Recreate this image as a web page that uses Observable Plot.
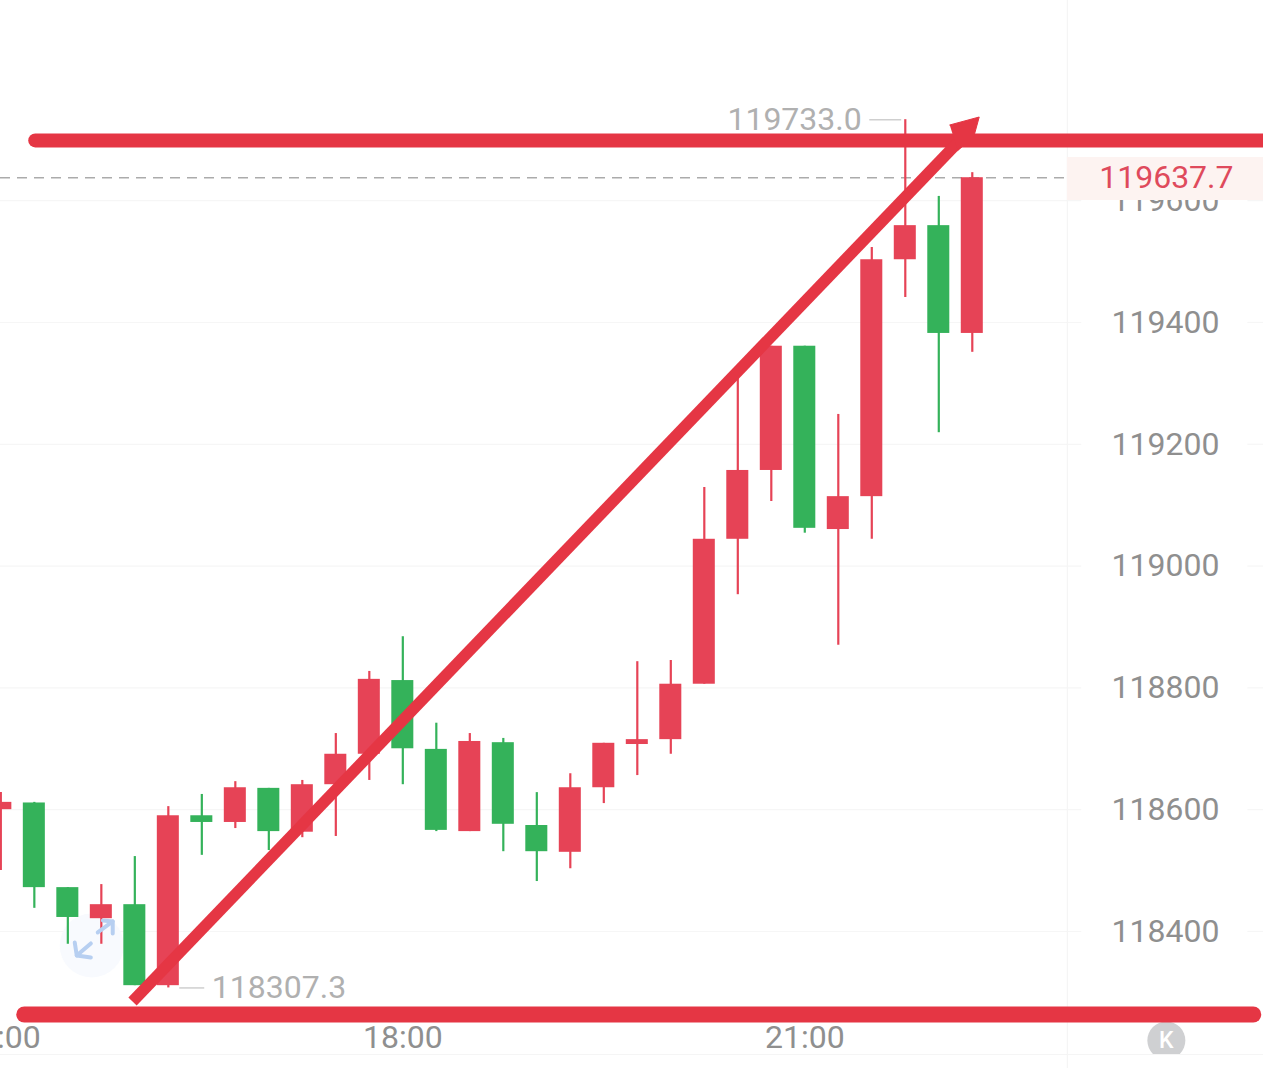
<!DOCTYPE html>
<html>
<head>
<meta charset="utf-8">
<style>html,body{margin:0;padding:0;background:#fff}</style>
<script src="https://cdn.jsdelivr.net/npm/d3@7"></script>
<script src="https://cdn.jsdelivr.net/npm/@observablehq/plot@0.6"></script>
</head>
<body>
<div id="chart"></div>
<script>
// minutes after 15:00 for each 15-minute candle
const barMinutes = [0,15,30,45,60,75,90,105,120,135,150,165,180,195,210,225,240,255,270,285,300,315,330,345,360,375,390,405,420,435];
const direction = ["up","down","down","up","down","up","down","up","down","up","up","up","down","down","up","down","down","up","up","up","up","up","up","up","down","up","up","up","down","up"];
const bodyTop    = [118612,118611,118472,118444,118444,118590,118590,118636,118635,118641,118691,118814,118812,118699,118712,118710,118574,118636,118709,118715,118806,119044,119157,119361,119361,119114,119503,119559,119559,119637.7];
const bodyBottom = [118600,118472,118423,118421,118311,118311,118579,118579,118564,118563,118641,118691,118700,118566,118564,118576,118531,118530,118636,118707,118715,118806,119044,119157,119062,119060,119114,119503,119382,119382];
const wickHigh   = [118628,118612,118472,118477,118523,118605,118625,118646,118635,118648,118725,118827,118884,118742,118725,118717,118628,118659,118709,118843,118845,119129,119313,119361,119361,119249,119523,119733,119607,119646];
const wickLow    = [118500,118438,118379,118379,118311,118307.3,118525,118569,118533,118554,118556,118648,118641,118564,118564,118531,118482,118503,118610,118656,118691,118806,118953,119106,119054,118870,119044,119441,119219,119351];

const priceTicks = [118400,118600,118800,119000,119200,119400,119600];
const timeTicks = [0,180,360];
const timeLabels = ["15:00","18:00","21:00"];

const lastPrice = 119637.7, highPrice = 119733.0, lowPrice = 118307.3;
const topBarrier = 119699, bottomBarrier = 118263.7;

const trendMinutes = [58.97,428.5];
const trendPrices  = [118285.1,119695.6];
const headMinutes  = [424.9,438.1,435.7,428.5];
const headPrices   = [119724.3,119737.4,119705.4,119682.4];

// expand / collapse glyph near the lows
const glyphPart   = ["a","a","a","b","b","c","c","c","d","d"];
const glyphMinute = [33.1,34.0,40.3,34.0,40.3,45.7,50.1,50.1,43.4,50.1];
const glyphPrice  = [118382,118360.6,118357.3,118360.6,118380.3,118418.1,118416.4,118396.7,118398.4,118416.4];

const BODY_RED = "#e64356", GREEN = "#34b25a", INK = "#e53644";
const candles = barMinutes.map((m,i)=>({m,dir:direction[i],top:bodyTop[i],bottom:bodyBottom[i],high:wickHigh[i],low:wickLow[i]}));
const zip = (xs,ys)=>xs.map((m,i)=>({m,v:ys[i]}));
const half = 4.93;
const priceColumn = 521.9;
const font = 32;

const chart = Plot.plot({
  width:1263, height:1068,
  marginTop:0, marginRight:0, marginBottom:0, marginLeft:0,
  style:{background:"#fff", fontFamily:"Roboto, sans-serif", display:"block"},
  x:{type:"linear", domain:[-0.15,565.4], range:[0,1263], axis:null},
  y:{type:"linear", domain:[118175,119928.7], range:[1068,0], axis:null},
  color:{domain:["up","down"], range:[BODY_RED,GREEN]},
  marks:[
    // grid
    Plot.ruleY(priceTicks,{x1:-0.15,x2:484,stroke:"#f6f6f6",strokeWidth:1.2}),
    Plot.ruleY(priceTicks,{x1:558.4,x2:565.4,stroke:"#f6f6f6",strokeWidth:1.2}),
    Plot.ruleY([118198],{stroke:"#f5f5f5",strokeWidth:1.2}),
    Plot.ruleX([477.6],{stroke:"#f5f5f5",strokeWidth:1.2}),
    // axes
    Plot.axisY({anchor:"right",ticks:priceTicks,tickSize:0,tickPadding:0,textAnchor:"end",dx:-44,fontSize:font,fill:"#8f8f8f",tickFormat:d=>String(d),label:null}),
    Plot.text(timeTicks,{x:d=>d,y:118226,text:(d,i)=>timeLabels[i],fontSize:font,fill:"#8f8f8f",lineAnchor:"middle"}),
    // last price
    Plot.rect([0],{x1:477.6,x2:565.4,y1:119600.3,y2:119671,fill:"#fdf3f1"}),
    Plot.ruleY([lastPrice],{x1:-0.15,x2:476.7,stroke:"#ababab",strokeWidth:1.5,strokeDasharray:"10 7"}),
    Plot.text([lastPrice],{x:priceColumn,y:d=>d,text:d=>d.toFixed(1),fontSize:font,fill:"#df4a5c",lineAnchor:"middle"}),
    // glow behind glyph
    Plot.dot([0],{x:40.7,y:118377,r:32,fill:"#f8fafe"}),
    // candles
    Plot.ruleX(candles,{x:"m",y1:"low",y2:"high",stroke:"dir",strokeWidth:2.2}),
    Plot.rect(candles,{x1:d=>d.m-half,x2:d=>d.m+half,y1:"bottom",y2:"top",fill:"dir"}),
    // glyph
    Plot.line(zip(glyphMinute,glyphPrice).map((d,i)=>({...d,part:glyphPart[i]})),{x:"m",y:"v",z:"part",stroke:"#b7cff1",strokeWidth:4}),
    // high and low annotation
    Plot.ruleY([highPrice],{x1:389.1,x2:403.4,stroke:"#cfcfcf",strokeWidth:1.5}),
    Plot.text([highPrice],{x:385.5,y:d=>d,text:d=>d.toFixed(1),textAnchor:"end",fontSize:font,fill:"#b0b0b0",lineAnchor:"middle"}),
    Plot.ruleY([lowPrice],{x1:80.1,x2:91.3,stroke:"#cfcfcf",strokeWidth:1.5}),
    Plot.text([lowPrice],{x:94.5,y:d=>d,text:d=>d.toFixed(1),textAnchor:"start",fontSize:font,fill:"#b0b0b0",lineAnchor:"middle"}),
    // k-line button
    Plot.dot([0],{x:priceColumn,y:118221,r:19,fill:"#cfd0d2"}),
    Plot.text(["K"],{x:priceColumn,y:118220,fontSize:23,fontWeight:500,fill:"#fff",lineAnchor:"middle"}),
    Plot.rect([0],{x1:490,x2:565.4,y1:118175,y2:118196.4,fill:"#fff"}),
    Plot.ruleY([118198],{x1:490,x2:565.4,stroke:"#f5f5f5",strokeWidth:1.2}),
    // hand-drawn overlays
    Plot.line(zip([15.4,575],[topBarrier,topBarrier]),{x:"m",y:"v",stroke:INK,strokeWidth:14,strokeLinecap:"round"}),
    Plot.line(zip([10.5,560.8],[bottomBarrier,bottomBarrier]),{x:"m",y:"v",stroke:INK,strokeWidth:16,strokeLinecap:"round"}),
    Plot.line(zip(trendMinutes,trendPrices),{x:"m",y:"v",stroke:INK,strokeWidth:11.5,strokeLinecap:"butt"}),
    Plot.line(zip(headMinutes,headPrices),{x:"m",y:"v",fill:INK,stroke:INK,strokeWidth:1})
  ]
});
document.getElementById("chart").appendChild(chart);
</script>
</body>
</html>
